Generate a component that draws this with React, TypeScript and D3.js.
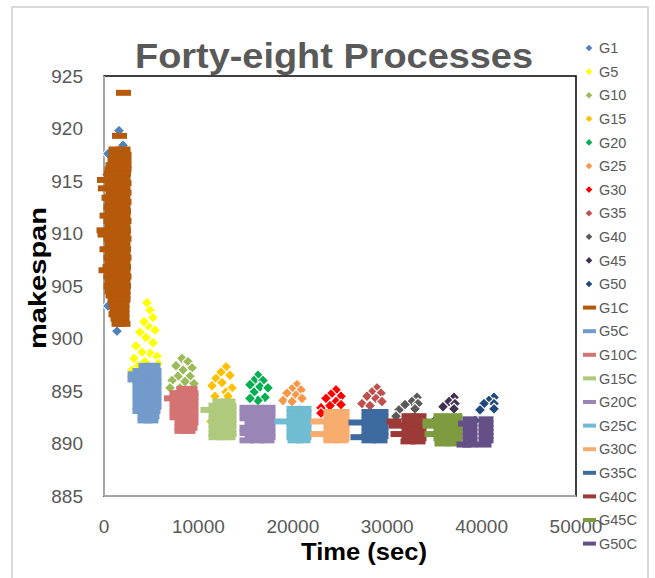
import React from "react";
import * as d3 from "d3";

type P = [number, number];

const seriesNames = ["G1","G5","G10","G15","G20","G25","G30","G35","G40","G45","G50","G1C","G5C","G10C","G15C","G20C","G25C","G30C","G35C","G40C","G45C","G50C"];
const seriesColors = ["#4f81bd","#ffff00","#9bbb59","#ffc000","#00b050","#f79646","#ff0000","#c0504d","#595959","#3f3151","#1f497d","#b55a0a","#729aca","#d47472","#afc97d","#9a85b7","#70bcd2","#f8ad6f","#3d6aa0","#9c3a38","#7e9b40","#644f87"];
const xTicks = [0, 10000, 20000, 30000, 40000, 50000];
const yTicks = [885, 890, 895, 900, 905, 910, 915, 920, 925];

const G1: P[] = [[1589,919.8],[2013,918.4],[424,917.6],[318,915.6],[1377,900.7],[424,903.1],[1000,912],[1500,908],[1800,905],[700,910],[1200,914]];
const G5: P[] = [[4555,903.4],[4873,902.7],[5190,902.0],[4661,901.2],[5402,900.8],[4237,901.6],[3813,900.6],[4449,900.1],[5190,899.6],[3390,899.3],[4873,898.6],[4025,898.7],[5614,898.3],[3178,898.1],[4343,897.8],[5720,897.6],[3602,897.4],[4979,897.1],[2966,897.0]];
const G10: P[] = [[8263,898.1],[8898,897.8],[7627,897.4],[9322,897.2],[8369,897.0],[7839,896.4],[9110,896.4],[7203,896.0],[8580,895.9],[9534,895.7],[8051,895.3],[6992,895.3]];
const G15: P[] = [[12923,897.3],[12394,896.8],[13347,896.5],[11864,896.2],[12500,895.8],[11440,895.5],[13559,895.3],[12923,894.9],[13135,894.5],[11758,894.5],[11334,892.1]];
const G20: P[] = [[16313,896.5],[15889,896.0],[16843,896.0],[15466,895.6],[16525,895.4],[17373,895.3],[15889,894.9],[17055,894.4],[16313,894.1],[15466,894.3]];
const G25: P[] = [[20444,895.6],[19915,895.2],[20868,895.1],[19386,894.8],[20338,894.6],[20974,894.3],[18962,894.1],[19915,894.0]];
const G30: P[] = [[24576,895.1],[24047,894.7],[25106,894.5],[23517,894.3],[24576,894.0],[25106,893.7],[22987,893.4],[23941,893.6],[22987,892.9]];
const G35: P[] = [[28919,895.3],[28389,894.9],[29343,894.8],[27859,894.5],[28813,894.3],[29449,894.0],[27330,893.8],[28177,893.6]];
const G40: P[] = [[33156,894.4],[32626,894.0],[33262,893.8],[31885,893.7],[32944,893.3],[31249,893.2],[30932,892.6]];
const G45: P[] = [[37075,894.4],[36546,894.0],[37181,893.8],[35910,893.5],[37075,893.3],[35169,892.3]];
const G50: P[] = [[41313,894.4],[40783,894.1],[41313,893.8],[40253,893.8],[41313,893.3],[39829,893.2],[39300,892.2]];

const G1C: P[] = [[2066,923.4],[1642,919.3],
[1271,918.0],[2013,918.0],[1271,917.5],[2119,917.5],[1165,917.0],[2119,917.0],[953,916.5],[2119,916.5],[847,916.1],[2119,916.1],[741,915.7],[2066,915.7],
[847,915.2],[2013,915.2],[53,915.1],[847,914.8],[2119,914.8],[847,914.3],[2013,914.3],[150,914.3],[953,913.9],[2119,913.9],[847,913.5],[2013,913.5],[530,913.4],
[847,913.0],[2119,913.0],[741,912.5],[2013,912.5],[847,912.1],[2066,912.1],[318,911.7],[953,911.7],[2013,911.7],[741,911.2],[2119,911.2],[847,910.8],[2013,910.8],
[0,910.3],[847,910.3],[2066,910.3],[106,909.9],[953,909.9],[2013,909.9],[741,909.5],[2119,909.5],[847,909.0],[2013,909.0],[318,908.5],[953,908.5],[2066,908.5],
[847,908.1],[2013,908.1],[741,907.7],[2119,907.7],[847,907.2],[2013,907.2],[635,906.8],[2066,906.8],[212,906.5],[847,906.3],[2013,906.3],[741,905.9],[2119,905.9],
[847,905.5],[2013,905.5],[741,905.0],[2066,905.0],[847,904.5],[2013,904.5],[953,904.1],[2013,904.1],[1165,903.7],[2013,903.7],[1271,903.2],[1907,903.2],
[1377,902.8],[1907,902.8],[1271,902.3],[1907,902.3],[1483,901.9],[1907,901.9],[1589,901.4],[2013,901.4]];
const G5C: P[] = [[4449,897.4],[5190,897.4],[3813,896.9],[4555,896.9],[5296,896.9],[3284,896.6],[3813,896.4],[4555,896.4],[5296,896.4],[3284,896.1],
[3813,895.9],[4555,895.9],[5296,895.9],[3813,895.5],[4555,895.5],[5296,895.5],[3813,895.0],[4555,895.0],[5296,895.0],[3813,894.5],[4555,894.5],[5296,894.5],
[3813,894.0],[4555,894.0],[5296,894.0],[3813,893.5],[4555,893.5],[5296,893.5],[3813,893.1],[4555,893.1],[5190,893.1],[4343,892.6],[5084,892.6],[4343,892.2],[4978,892.2]];
const G10C: P[] = [[8474,895.2],[9110,895.2],[7733,894.8],[8474,894.8],[9216,894.8],[7150,894.3],[7733,894.4],[8474,894.4],[9216,894.4],[7733,894.0],[8474,894.0],[9216,894.0],
[7733,893.5],[8474,893.5],[9216,893.5],[7733,893.0],[8474,893.0],[9216,893.0],[7733,892.5],[8474,892.5],[9216,892.5],[8262,892.0],[8898,892.0],[9216,892.0],
[8262,891.5],[8898,891.5],[9110,891.5],[8262,891.2],[8898,891.2]];
const G15C: P[] = [[12288,894.0],[13135,894.0],[11864,893.6],[12606,893.6],[13241,893.6],[11017,893.2],[11864,893.2],[12606,893.2],[13241,893.2],
[11864,892.8],[12606,892.8],[13241,892.8],[11864,892.3],[12606,892.3],[13241,892.3],[11864,891.9],[12606,891.9],[13241,891.9],
[11864,891.4],[12606,891.4],[13241,891.4],[11864,890.9],[12606,890.9],[13241,890.9],[11864,890.6],[12606,890.6],[13135,890.6]];
const G20C: P[] = [[15148,893.4],[16260,893.4],[17373,893.4],[15148,892.9],[16260,892.9],[17373,892.9],[15148,892.4],[16260,892.4],[17373,892.4],
[15678,892.0],[16260,892.0],[17373,892.0],[15148,891.5],[16260,891.5],[17373,891.5],[15148,891.0],[16260,891.0],[17373,891.0],
[15678,890.6],[16260,890.6],[17373,890.6],[15148,890.3],[16260,890.3],[17267,890.3]];
const G25C: P[] = [[20127,893.3],[21186,893.3],[20127,892.9],[21186,892.9],[18856,892.1],[20127,892.4],[21186,892.4],[20127,891.9],[21186,891.9],
[20127,891.5],[21186,891.5],[20127,891.0],[21186,891.0],[20127,890.6],[21186,890.6],[20233,890.3],[21080,890.3]];
const G30C: P[] = [[24046,893.0],[25212,893.0],[24046,892.5],[25212,892.5],[22669,892.1],[24046,892.1],[25212,892.1],[24046,891.7],[25212,891.7],
[24046,891.3],[25212,891.3],[22669,890.9],[24046,890.9],[25212,890.9],[24046,890.5],[25212,890.5],[24046,890.3],[25106,890.3]];
const G35C: P[] = [[28071,893.0],[29343,893.0],[28071,892.5],[29343,892.5],[26694,892.0],[28071,892.0],[29343,892.0],[28071,891.6],[29343,891.6],
[28071,891.1],[29343,891.1],[26906,890.6],[28071,890.7],[29343,890.7],[28071,890.3],[29237,890.3]];
const G40C: P[] = [[32308,892.6],[33368,892.6],[30720,892.1],[32308,892.1],[33368,892.1],[30932,891.7],[32308,891.7],[33368,891.7],
[32308,891.3],[33368,891.3],[31143,890.9],[32308,890.9],[33368,890.9],[32308,890.5],[33368,890.5],[32202,890.2],[33262,890.2]];
const G45C: P[] = [[35698,892.6],[37181,892.6],[34533,892.1],[35698,892.1],[37181,892.1],[34533,891.7],[35698,891.7],[37181,891.7],
[35698,891.3],[37181,891.3],[34745,890.9],[35698,890.9],[37181,890.9],[35698,890.5],[37181,890.5],[35804,890.0],[37075,890.0]];
const G50C: P[] = [[38771,892.3],[40465,892.3],[38294,891.9],[38771,891.9],[40465,891.9],[38771,891.5],[40465,891.5],[38771,891.1],[40465,891.1],
[38771,890.7],[40465,890.7],[38771,890.3],[40465,890.3],[38135,889.9],[38771,889.9],[40253,889.9]];

const allSeries: P[][] = [G1,G5,G10,G15,G20,G25,G30,G35,G40,G45,G50,G1C,G5C,G10C,G15C,G20C,G25C,G30C,G35C,G40C,G45C,G50C];

const FONT = "'Liberation Sans', Arial, sans-serif";

export default function App() {
  const left = 104, right = 576, top = 76, bottom = 496;
  const x = d3.scaleLinear().domain([0, 50000]).range([left, right]);
  const y = d3.scaleLinear().domain([885, 925]).range([bottom, top]);
  const diamond = (cx: number, cy: number, r: number) =>
    `M${cx},${cy - r}L${cx + r},${cy}L${cx},${cy + r}L${cx - r},${cy}Z`;

  return (
    <svg width={655} height={578} style={{ position: "absolute", left: 0, top: 0, background: "#fff" }}>
      <rect x={12} y={7} width={636} height={580} fill="#fff" stroke="#d9d9d9" strokeWidth={2} />
      <text x={334} y={68} textAnchor="middle" fontFamily={FONT} fontWeight="bold" fontSize={35} fill="#595959" textLength={398} lengthAdjust="spacingAndGlyphs">Forty-eight Processes</text>
      <rect x={left} y={top} width={right - left} height={bottom - top} fill="none" stroke="#000" strokeWidth={1.5} />
      <line x1={left} y1={top} x2={left} y2={bottom} stroke="#a6a6a6" strokeWidth={2} />
      <line x1={left} y1={bottom} x2={right} y2={bottom} stroke="#a6a6a6" strokeWidth={2} />
      {yTicks.map((t) => (
        <text key={"y" + t} x={83} y={y(t)} dy="0.36em" textAnchor="end" fontFamily={FONT} fontSize={19} fill="#595959">{t}</text>
      ))}
      {xTicks.map((t) => (
        <text key={"x" + t} x={x(t)} y={533} textAnchor="middle" fontFamily={FONT} fontSize={19} fill="#595959">{t}</text>
      ))}
      <text x={364} y={560} textAnchor="middle" fontFamily={FONT} fontWeight="bold" fontSize={24} fill="#000" textLength={126} lengthAdjust="spacingAndGlyphs">Time (sec)</text>
      <text transform="translate(46,278) rotate(-90)" textAnchor="middle" fontFamily={FONT} fontWeight="bold" fontSize={24} fill="#000" textLength={142} lengthAdjust="spacingAndGlyphs">makespan</text>
      {allSeries.map((pts, si) => (
        <g key={seriesNames[si]}>
          {pts.map((p, i) =>
            si < 11 ? (
              <path key={i} d={diamond(x(p[0]), y(p[1]), 5.6)} fill={seriesColors[si]} stroke="#fff" strokeWidth={1.1} />
            ) : (
              <rect key={i} x={x(p[0]) - 7.5} y={y(p[1]) - 3} width={15} height={6} fill={seriesColors[si]} />
            )
          )}
        </g>
      ))}
      {seriesNames.map((n, i) => {
        const cy = 48 + i * 23.6;
        return (
          <g key={"l" + n}>
            {i < 11 ? (
              <path d={diamond(589, cy, 3.3)} fill={seriesColors[i]} />
            ) : (
              <rect x={583} y={cy - 2} width={13} height={4} fill={seriesColors[i]} />
            )}
            <text x={599} y={cy} dy="0.36em" fontFamily={FONT} fontSize={14.5} fill="#595959">{n}</text>
          </g>
        );
      })}
    </svg>
  );
}
